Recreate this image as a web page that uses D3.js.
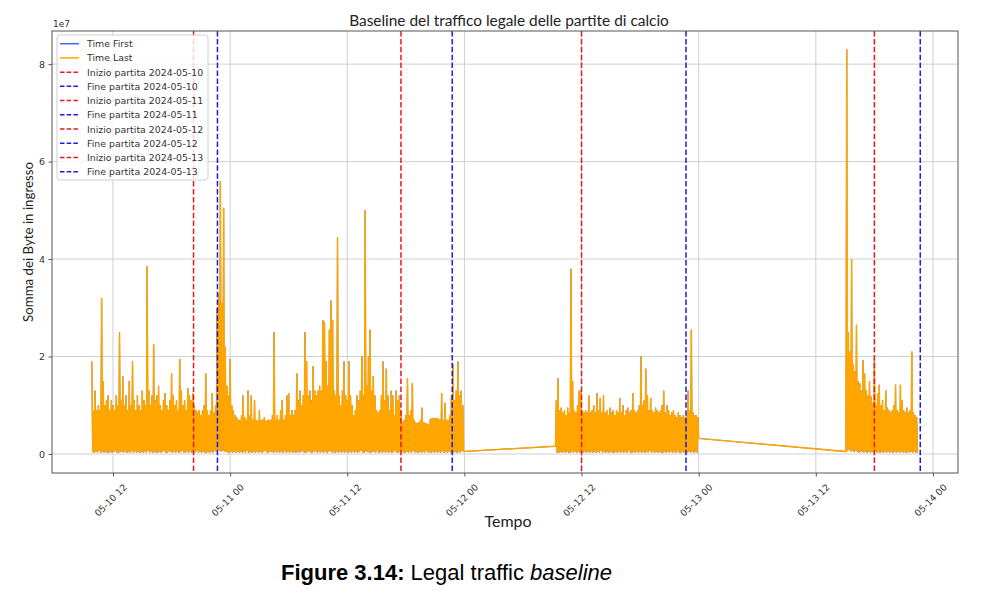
<!DOCTYPE html>
<html><head><meta charset="utf-8">
<script src="https://cdn.jsdelivr.net/npm/d3@7/dist/d3.min.js"></script>
<style>body{margin:0;background:#fff}svg{display:block}</style>
</head><body>
<svg id="chart" width="1000" height="602"></svg>
<script>
// ---------------- DATA (bytes in MB, i.e. ×1e6; samples every 5 minutes) ----------------
const stepMinutes = 5;
const seg1Start = "2024-05-10T09:50:00";
const seg1 = [
 19,.4, 9,.2, 13,.5, 9,.3, 10,.6, 9,.2, 32,.4, 15,.3, 10,.5, 11,.2,
 12,.3, 9,.5, 11,.2, 10,.4, 9,.6, 12,.3, 10,.2, 25,.5, 11,.4, 16,.3,
 10,.5, 12,.2, 9,.4, 15,.3, 10,.6, 19,.2, 11,.5, 9,.3, 12,.4, 10,.2,
 9,.4, 13,.3, 11,.5, 10,.2, 38.5,.6, 13,.3, 10,.4, 12,.2, 22.5,.5, 11,.3,
 12,.2, 14,.5, 10,.3, 9,.4, 11,.6, 12.5,.2, 10,.3, 9,.5, 11,.4, 16.5,.2,
 12,.4, 10,.3, 11,.5, 9,.2, 19.5,.4, 13,.6, 10,.3, 11,.2, 9,.5, 13.5,.3,
 12,.5, 11,.2, 12.5,.4, 10,.3, 9,.6, 8.5,.2, 9,.4, 8,.3, 9,.5, 10,.2,
 16.5,.3, 9,.4, 8,.2, 9,.5, 12.5,.3, 8.5,.6, 10,.4, 30,.8, 33,.6, 56,.5,
 31,.7, 50.5,.4, 22,.5, 14,.3, 12,.2, 19.5,.4, 10,.3, 9,.5, 8,.2, 7.5,.4,
 7,.3, 7,.5, 8,.2, 12,.4, 7.5,.3, 7,.6, 13,.2, 8,.4, 12,.3, 7,.5,
 11,.2, 7,.4, 6.8,.3, 9,.5, 7,.2, 7,.4, 7.5,.6, 6.8,.3, 7,.2, 7,.4,
 7,.5, 8,.3, 25,.4, 7,.2, 8,.5, 7,.3, 9,.4, 11,.2, 7,.6, 8,.3,
 12,.4, 12.5,.2, 8,.5, 9,.3, 8,.4, 9,.2, 16.5,.5, 11,.3, 13,.4, 10,.6,
 12,.3, 25,.2, 19,.4, 12,.5, 13,.3, 11,.2, 18,.4, 13,.6, 12,.3, 13,.5,
 14,.2, 13,.4, 27.5,.3, 27,.5, 19,.2, 14,.4, 25.5,.6, 31.5,.3, 27.5,.4, 13,.2,
 12,.5, 44.5,.3, 12,.4, 10,.2, 13,.5, 19,.3, 12,.6, 11,.2, 19,.4, 12,.3,
 10,.4, 8,.2, 9,.5, 12,.3, 11,.4, 13,.6, 20,.2, 12,.3, 50,.5, 14,.4,
 20,.3, 25.5,.2, 13,.5, 16,.4, 12,.3, 9,.6, 8.5,.2, 9,.4, 12,.3, 19,.5,
 11,.2, 17.5,.4, 12,.3, 9,.5, 13,.2, 12,.4, 8,.6, 13,.3, 11,.2, 12,.5,
 9,.4, 6.5,.3, 7,.2, 8,.5, 15.5,.3, 8,.4, 9,.2, 14.5,.6, 7,.3, 6.5,.4,
 6.3,.2, 6.5,.5, 7,.3, 9.5,.4, 6.5,.2, 6.3,.6, 6.2,.3, 6,.4, 7.2,.2, 7.4,.5,
 7.4,.3, 7.4,.4, 7.3,.2, 7.4,.5, 7,.3, 12.5,.6, 7,.2, 10.5,.4, 7,.3, 7,.5,
 8,.2, 12,.4, 18.5,.3, 11,.5, 13,.2, 19,.4, 12,.3, 13,.6, 10,.5
];
const seg2Start = "2024-05-12T09:20:00";
const seg2 = [
 1.6,
 11,.3, 15.5,.2, 9,.4, 9.5,.3, 8.5,.5, 9,.2, 8,.4, 9.5,.3, 8.5,.2, 38,.4,
 15,.3, 9,.5, 8.5,.2, 10,.4, 13,.3, 13,.6, 9,.2, 8.5,.4, 9,.3, 8.5,.5,
 12,.2, 8.5,.4, 9,.3, 10,.5, 8.5,.2, 12.5,.4, 9,.3, 11.5,.6, 8.5,.2, 12,.4,
 8.5,.3, 9,.5, 8,.2, 9.5,.4, 8.5,.3, 9,.2, 8,.5, 9,.3, 8.5,.4, 11.5,.2,
 8.5,.5, 10,.3, 8,.4, 9,.2, 9.5,.6, 8.5,.3, 9,.2, 12.5,.4, 9,.3, 8.5,.5,
 9,.2, 10,.4, 20,.3, 10,.5, 11,.2, 17.5,.4, 12,.3, 9,.6, 11.5,.2, 9,.4,
 8.5,.3, 9.5,.5, 9,.2, 8.5,.4, 9,.3, 10,.2, 13,.5, 8.5,.3, 10,.4, 9,.2,
 8,.5, 8.5,.3, 9,.4, 8,.2, 7.5,.6, 8.5,.3, 8,.2, 7.5,.4, 8,.3, 7.5,.5,
 8,.2, 13,.4, 9,.3, 25.5,.5, 8.5,.2, 8,.4, 8,.3, 7.5, 3.2
];
const seg3Start = "2024-05-13T15:05:00";
const seg3 = [
 0.5,
 83,.6, 25,.8, 21,.5, 40,.7, 18.5,.4, 17,.6, 26.5,.5, 15,.3, 14.5,.4, 13,.5,
 19.3,.3, 16.5,.4, 13,.2, 12,.5, 15,.3, 11.8,.4, 10.5,.2, 19.6,.5, 10,.3, 12.5,.4,
 14.2,.2, 10,.5, 11,.3, 9,.4, 13,.2, 9.5,.5, 9,.3, 8.5,.4, 9,.2, 10,.5,
 14.2,.3, 9,.4, 8.5,.2, 14.2,.5, 11,.3, 9,.4, 8.5,.2, 9.5,.5, 8.5,.3, 9,.4,
 21,.2, 8.5,.5, 8,.3, 7.5,.3
];
const segStarts = [seg1Start, seg2Start, seg3Start];
const segValues = [seg1, seg2, seg3];

const matchDays   = ["2024-05-10", "2024-05-11", "2024-05-12", "2024-05-13"];
const matchStarts = ["2024-05-10T20:15:00", "2024-05-11T17:30:00", "2024-05-12T12:00:00", "2024-05-13T18:00:00"];
const matchEnds   = ["2024-05-10T22:42:00", "2024-05-11T22:45:00", "2024-05-12T22:42:00", "2024-05-13T22:42:00"];

const xTicks = ["2024-05-10T12:00:00","2024-05-11T00:00:00","2024-05-11T12:00:00","2024-05-12T00:00:00",
                "2024-05-12T12:00:00","2024-05-13T00:00:00","2024-05-13T12:00:00","2024-05-14T00:00:00"];
const xTickLabels = ["05-10 12","05-11 00","05-11 12","05-12 00","05-12 12","05-13 00","05-13 12","05-14 00"];
const yTicks = [0, 2, 4, 6, 8];          // × 1e7
const yTickLabels = ["0", "2", "4", "6", "8"];
const xLimits = ["2024-05-10T05:45:00", "2024-05-14T02:34:00"];
const yLimits = [-0.39, 8.68];           // × 1e7

const title = "Baseline del traffico legale delle partite di calcio";
const xLabel = "Tempo";
const yLabel = "Somma dei Byte in ingresso";
const seriesNames = ["Time First", "Time Last"];

// ---------------- BUILD TABLE ----------------
const table = [];
segStarts.forEach((s, k) => {
  const t0 = new Date(s).getTime();
  segValues[k].forEach((v, i) => table.push({ t: new Date(t0 + i * stepMinutes * 60000), v: v * 1e6 }));
});

// ---------------- CHART ----------------
const svg = d3.select("#chart");
const P = { l: 52, r: 958, t: 31, b: 473 };
const x = d3.scaleTime().domain(xLimits.map(d => new Date(d))).range([P.l, P.r]);
const y = d3.scaleLinear().domain(yLimits.map(d => d * 1e7)).range([P.b, P.t]);

const COL = { first: "#4169e1", last: "#ffa500", red: "#e8191c", blue: "#1c1ce8", grid: "#cfcfcf", spine: "#555" };

svg.append("defs").append("clipPath").attr("id", "clip")
  .append("rect").attr("x", P.l).attr("y", P.t).attr("width", P.r - P.l).attr("height", P.b - P.t);

// grid
const grid = svg.append("g");
grid.selectAll(".gx").data(xTicks).join("line")
  .attr("x1", d => x(new Date(d))).attr("x2", d => x(new Date(d)))
  .attr("y1", P.t).attr("y2", P.b).attr("stroke", COL.grid).attr("stroke-width", 1);
grid.selectAll(".gy").data(yTicks).join("line")
  .attr("x1", P.l).attr("x2", P.r)
  .attr("y1", d => y(d * 1e7)).attr("y2", d => y(d * 1e7)).attr("stroke", COL.grid).attr("stroke-width", 1);

// lines
const line = d3.line().x(d => x(d.t)).y(d => y(d.v));
const plot = svg.append("g").attr("clip-path", "url(#clip)");
plot.append("path").datum(table).attr("d", line).attr("fill", "none")
  .attr("stroke", COL.first).attr("stroke-width", 0.9).attr("stroke-linejoin", "miter");
plot.append("path").datum(table).attr("d", line).attr("fill", "none")
  .attr("stroke", COL.last).attr("stroke-width", 1.5).attr("stroke-linejoin", "miter").attr("stroke-miterlimit", 2);

// match vlines
const vl = svg.append("g");
matchDays.forEach((d, i) => {
  [[matchStarts[i], COL.red], [matchEnds[i], COL.blue]].forEach(([t, c]) => {
    const xx = x(new Date(t));
    vl.append("line").attr("x1", xx).attr("x2", xx).attr("y1", P.t).attr("y2", P.b)
      .attr("stroke", c).attr("stroke-width", 1.5).attr("stroke-dasharray", "5.5,2.4");
  });
});

// spines
svg.append("rect").attr("x", P.l).attr("y", P.t).attr("width", P.r - P.l).attr("height", P.b - P.t)
  .attr("fill", "none").attr("stroke", COL.spine).attr("stroke-width", 1);

// axes
const xAxis = svg.append("g").attr("transform", `translate(0,${P.b})`)
  .call(d3.axisBottom(x).tickValues(xTicks.map(d => new Date(d))).tickFormat((d, i) => xTickLabels[i]).tickSize(3.5));
xAxis.select(".domain").remove();
xAxis.selectAll("line").attr("stroke", COL.spine);
xAxis.selectAll("text").attr("y", null).attr("dy", null)
  .attr("text-anchor", "middle").attr("dominant-baseline", "central")
  .attr("transform", "translate(-3,27) rotate(-45)")
  .attr("font-family", "DejaVu Sans").attr("font-size", 9.2).attr("fill", "#333");

const yAxis = svg.append("g").attr("transform", `translate(${P.l},0)`)
  .call(d3.axisLeft(y).tickValues(yTicks.map(d => d * 1e7)).tickFormat((d, i) => yTickLabels[i]).tickSize(3.5).tickPadding(3.5));
yAxis.select(".domain").remove();
yAxis.selectAll("line").attr("stroke", COL.spine);
yAxis.selectAll("text").attr("font-family", "DejaVu Sans").attr("font-size", 9.5).attr("fill", "#333");

svg.append("text").attr("x", P.l + 1).attr("y", 27).text("1e7")
  .attr("font-family", "DejaVu Sans").attr("font-size", 9).attr("fill", "#333");

function fitWidth(sel, target) {
  const w = sel.node().getComputedTextLength();
  const fs = parseFloat(sel.attr("font-size"));
  if (w > 0) sel.attr("font-size", fs * target / w);
}

const tt = svg.append("text").attr("x", 509).attr("y", 26).attr("text-anchor", "middle")
  .attr("font-family", "Lato").attr("font-size", 14).attr("fill", "#222").text(title);
fitWidth(tt, 320);

const xl = svg.append("text").attr("x", 508).attr("y", 527).attr("text-anchor", "middle")
  .attr("font-family", "Lato").attr("font-size", 14).attr("fill", "#222").text(xLabel);
fitWidth(xl, 47);

const yl = svg.append("text").attr("transform", "translate(33,242) rotate(-90)").attr("text-anchor", "middle")
  .attr("font-family", "Lato").attr("font-size", 13).attr("fill", "#222").text(yLabel);
fitWidth(yl, 160);

// legend
const legendItems = [
  { name: seriesNames[0], color: COL.first, dash: null },
  { name: seriesNames[1], color: COL.last, dash: null }
];
matchDays.forEach(d => {
  legendItems.push({ name: "Inizio partita " + d, color: COL.red, dash: "4.5,2.2" });
  legendItems.push({ name: "Fine partita " + d, color: COL.blue, dash: "4.5,2.2" });
});
const lg = svg.append("g");
lg.append("rect").attr("x", 57).attr("y", 35).attr("width", 151).attr("height", 145).attr("rx", 3)
  .attr("fill", "#fff").attr("fill-opacity", 0.8).attr("stroke", "#d0d0d0").attr("stroke-width", 1);
legendItems.forEach((it, i) => {
  const yy = 43.7 + i * 14.22;
  lg.append("line").attr("x1", 60).attr("x2", 79).attr("y1", yy).attr("y2", yy)
    .attr("stroke", it.color).attr("stroke-width", 1.5).attr("stroke-dasharray", it.dash);
  lg.append("text").attr("x", 87).attr("y", yy).attr("dominant-baseline", "central")
    .attr("font-family", "DejaVu Sans").attr("font-size", 9.4).attr("fill", "#333").text(it.name);
});

// caption
const cap = svg.append("text").attr("x", 281).attr("y", 580)
  .attr("font-family", "Liberation Sans").attr("font-size", 22).attr("fill", "#000");
cap.append("tspan").attr("font-weight", "bold").text("Figure 3.14:");
cap.append("tspan").text(" Legal traffic ");
cap.append("tspan").attr("font-style", "italic").text("baseline");
</script>
</body></html>
